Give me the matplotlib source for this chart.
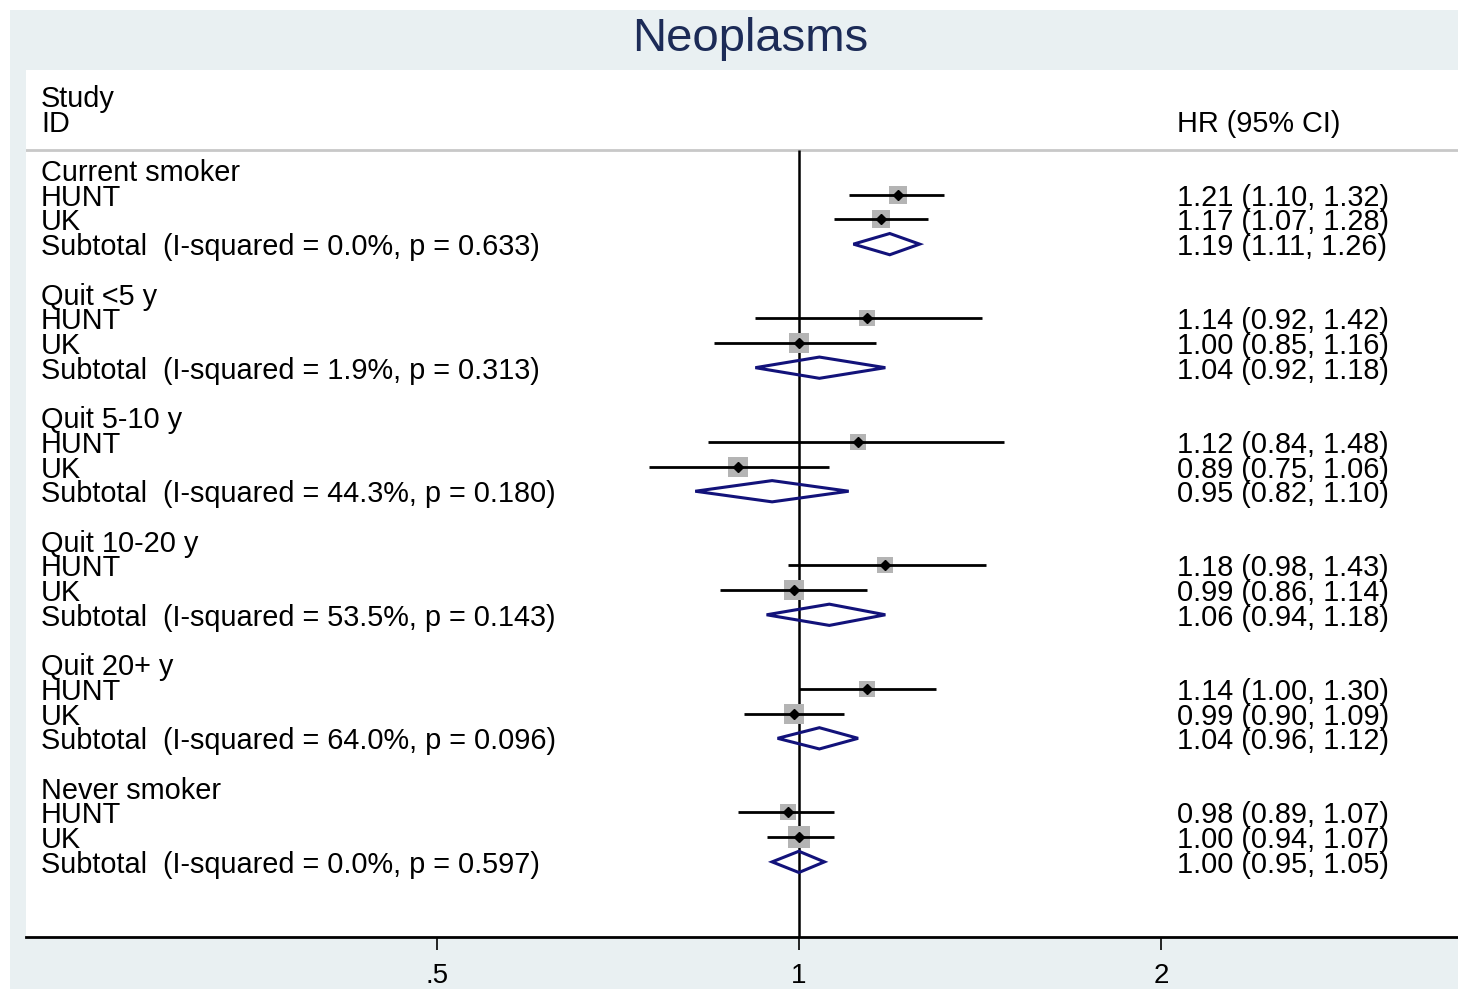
import matplotlib
matplotlib.use("Agg")
import matplotlib.pyplot as plt
from matplotlib import transforms
from matplotlib.patches import Polygon, Rectangle

plt.rcParams['font.family'] = ['Liberation Sans', 'DejaVu Sans']

# Subgroups and studies
groups = ['Current smoker', 'Quit <5 y', 'Quit 5-10 y', 'Quit 10-20 y', 'Quit 20+ y', 'Never smoker']
studies = ['HUNT', 'UK']

# Study-level hazard ratios with 95% CI
hr = [[1.21, 1.17], [1.14, 1.00], [1.12, 0.89], [1.18, 0.99], [1.14, 0.99], [0.98, 1.00]]
lo = [[1.10, 1.07], [0.92, 0.85], [0.84, 0.75], [0.98, 0.86], [1.00, 0.90], [0.89, 0.94]]
hi = [[1.32, 1.28], [1.42, 1.16], [1.48, 1.06], [1.43, 1.14], [1.30, 1.09], [1.07, 1.07]]
weights = [[50, 50], [35, 65], [35, 65], [39, 61], [35, 65], [34, 66]]

# Pooled subtotal estimates
sub_hr = [1.19, 1.04, 0.95, 1.06, 1.04, 1.00]
sub_lo = [1.11, 0.92, 0.82, 0.94, 0.96, 0.95]
sub_hi = [1.26, 1.18, 1.10, 1.18, 1.12, 1.05]
i_squared = ['0.0', '1.9', '44.3', '53.5', '64.0', '0.0']
p_het = ['0.633', '0.313', '0.180', '0.143', '0.096', '0.597']

xticks = [0.5, 1, 2]
xticklabels = ['.5', '1', '2']

W, H = 1458, 990
fig = plt.figure(figsize=(W / 100, H / 100), dpi=100)
fig.patch.set_facecolor('white')
bg = '#e9f0f2'
fig.add_artist(Rectangle((10 / W, 1 - 989 / H), 1448 / W, 979 / H,
                         transform=fig.transFigure, facecolor=bg,
                         edgecolor='none', zorder=-10))

ax = fig.add_axes([26 / W, 1 - 937 / H, (W - 26) / W, (937 - 70) / H])
ax.set_facecolor('white')
ax.set_xscale('log')
ax.set_xlim(0.2277, 3.532)
row_px = 24.71
y_top = (70 - 170) / row_px
y_bot = (937 - 170) / row_px
ax.set_ylim(y_bot, y_top)

for s in ['top', 'right', 'left']:
    ax.spines[s].set_visible(False)
ax.spines['bottom'].set_linewidth(2)
ax.set_yticks([])
ax.set_xticks(xticks)
ax.set_xticklabels(xticklabels, fontsize=20)
ax.minorticks_off()
ax.tick_params(axis='x', length=9.5, width=1.2, pad=9)

fs = 20.8
tr = transforms.blended_transform_factory(ax.transAxes, ax.transData)
x_left = (41 - 26) / (W - 26)
x_right = (1177 - 26) / (W - 26)

# Header
ax.text(x_left, -3, 'Study', transform=tr, fontsize=fs, va='center_baseline')
ax.text(x_left, -2, 'ID', transform=tr, fontsize=fs, va='center_baseline')
ax.text(x_right, -2, 'HR (95% CI)', transform=tr, fontsize=fs, va='center_baseline')
sep = (150 - 170) / row_px
ax.axhline(sep, color='#c8c8c8', lw=2, zorder=1)

# Null line
ax.vlines(1, sep, y_bot, color='black', lw=1.8, zorder=2)

k = 2.6 * 0.72  # box side in points per sqrt(weight)
for g, name in enumerate(groups):
    base = g * 5
    ax.text(x_left, base, name, transform=tr, fontsize=fs, va='center_baseline')
    for j, st in enumerate(studies):
        r = base + 1 + j
        ax.text(x_left, r, st, transform=tr, fontsize=fs, va='center_baseline')
        ax.text(x_right, r, f'{hr[g][j]:.2f} ({lo[g][j]:.2f}, {hi[g][j]:.2f})',
                transform=tr, fontsize=fs, va='center_baseline')
        side = k * weights[g][j] ** 0.5
        ax.scatter([hr[g][j]], [r], marker='s', s=side ** 2, color='#b4b4b4',
                   linewidths=0, zorder=3)
        ax.hlines(r, lo[g][j], hi[g][j], color='black', lw=2, zorder=4)
        ax.plot([hr[g][j]], [r], marker='D', ms=5.5, color='black', zorder=5)
    r = base + 3
    ax.text(x_left, r, f'Subtotal  (I-squared = {i_squared[g]}%, p = {p_het[g]})',
            transform=tr, fontsize=fs, va='center_baseline')
    ax.text(x_right, r, f'{sub_hr[g]:.2f} ({sub_lo[g]:.2f}, {sub_hi[g]:.2f})',
            transform=tr, fontsize=fs, va='center_baseline')
    dh = 0.43
    ax.add_patch(Polygon([(sub_lo[g], r), (sub_hr[g], r - dh), (sub_hi[g], r),
                          (sub_hr[g], r + dh)], closed=True, fill=False,
                         edgecolor='#12127a', lw=2.2, zorder=6))

fig.text(750 / W, 1 - 39 / H, 'Neoplasms', fontsize=34, color='#1c2b57',
         ha='center', va='center')

fig.savefig('out.png', dpi=100, facecolor='white')
